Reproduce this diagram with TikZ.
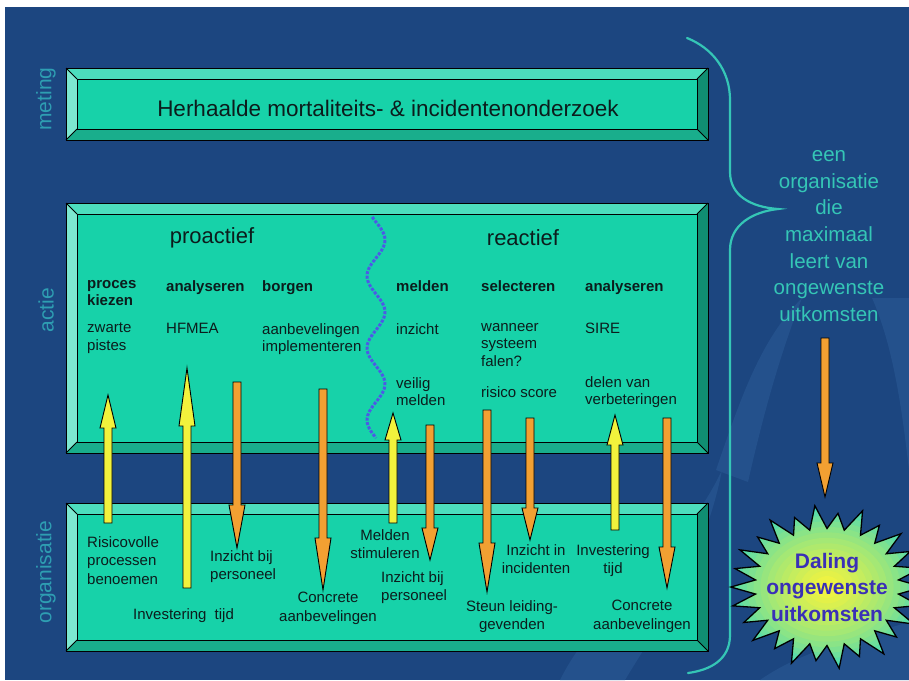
\documentclass[tikz,border=0pt]{standalone}
\usepackage{fontspec}
\setmainfont{Liberation Sans}
\usetikzlibrary{calc}

\definecolor{bgblue}{HTML}{1C4680}
\definecolor{wmblue}{HTML}{24518C}
\definecolor{boxface}{HTML}{17D2A9}
\definecolor{bvtop}{HTML}{4CDDBD}
\definecolor{bvleft}{HTML}{7DE8D0}
\definecolor{bvright}{HTML}{108E72}
\definecolor{bvbot}{HTML}{19AE8C}
\definecolor{sidetxt}{HTML}{2E9EB2}
\definecolor{bracecol}{HTML}{35C6B6}
\definecolor{wavecol}{HTML}{4B5BE6}
\definecolor{arryel}{HTML}{F2F23C}
\definecolor{arrorg}{HTML}{F2A032}
\definecolor{burstin}{HTML}{F6F43C}
\definecolor{burstout}{HTML}{3ED8BC}
\definecolor{dalingtxt}{HTML}{3A30B6}
\definecolor{darktxt}{HTML}{0C1C1C}

\newcommand{\fs}[2]{\fontsize{#1}{#2}\selectfont}

% beveled box round a node
\newcommand{\bevel}[2][11]{%
  \fill[bvtop] (#2.north west) -- (#2.north east) -- ($(#2.north east)+(-#1,#1)$) -- ($(#2.north west)+(#1,#1)$) -- cycle;
  \fill[bvleft] (#2.north west) -- ($(#2.north west)+(#1,#1)$) -- ($(#2.south west)+(#1,-#1)$) -- (#2.south west) -- cycle;
  \fill[bvright] (#2.north east) -- (#2.south east) -- ($(#2.south east)+(-#1,-#1)$) -- ($(#2.north east)+(-#1,#1)$) -- cycle;
  \fill[bvbot] (#2.south west) -- ($(#2.south west)+(#1,-#1)$) -- ($(#2.south east)+(-#1,-#1)$) -- (#2.south east) -- cycle;
  \draw[boxline] ($(#2.north west)+(#1,#1)$) rectangle ($(#2.south east)+(-#1,-#1)$);
  \draw[boxline] (#2.north west) -- ($(#2.north west)+(#1,#1)$)
    (#2.north east) -- ($(#2.north east)+(-#1,#1)$)
    (#2.south west) -- ($(#2.south west)+(#1,-#1)$)
    (#2.south east) -- ($(#2.south east)+(-#1,-#1)$);
  \draw[boxline] (#2.north west) rectangle (#2.south east);
}

% fat vertical arrow: [head length]{colour}{tail}{tip}
\newcommand{\fatarrow}[4][34]{%
  \draw[arrline, fill=#2] let \p1=(#3), \p2=(#4), \n1={(\y2>\y1) ? 1 : -1},
    \n2={\y2-\n1*#1} in
    ({\x1-4},\y1) -- ({\x1-4},\n2) -- ({\x1-8},\n2) -- (\x2,\y2)
    -- ({\x1+8},\n2) -- ({\x1+4},\n2) -- ({\x1+4},\y1) -- cycle;}

% star outline, round (0,0)
\newcommand{\burstpath}{(96,0)
  \foreach \k [evaluate=\k as \odd using {mod(\k,2)},
               evaluate=\k as \f using {(1+0.05*(1-\odd)*sin(mod(97*\k,360)))*(1-0.25*\odd)},
               evaluate=\k as \an using {(360/52)*\k}] in {1,...,51}
  { -- ({96*\f*cos(\an)},{78*\f*sin(\an)}) } -- cycle}

\tikzset{
  boxouter/.style={fill=boxface, inner sep=0pt, outer sep=0pt},
  boxline/.style={draw=black, line width=0.9pt},
  arrline/.style={draw=black, line width=0.9pt, line join=miter},
  sidelbl/.style={font=\fs{21}{24}, text=sidetxt, rotate=90, inner sep=0pt},
  titletxt/.style={font=\fs{22.5}{26}, text=darktxt, inner sep=0pt},
  hdr/.style={font=\fs{15}{17}\bfseries, text=darktxt, align=left, anchor=north west, inner sep=0pt},
  lbl/.style={font=\fs{15}{17.5}, text=darktxt, align=left, anchor=north west, inner sep=0pt},
  orgtxt/.style={font=\fs{15}{18.5}, text=darktxt, align=center, anchor=north, inner sep=0pt},
  orgleft/.style={orgtxt, align=left, anchor=north west},
  wavyline/.style={draw=wavecol, line width=3pt, dash pattern=on 3pt off 1.5pt},
  bracestyle/.style={draw=bracecol, line width=2.2pt, line cap=round},
  righttxt/.style={font=\fs{20.5}{26.6}, text=bracecol, align=center, inner sep=0pt},
  burstline/.style={draw=black, line width=1.3pt, line join=miter},
  bursttxt/.style={font=\fs{21}{26.5}\bfseries, text=dalingtxt, align=center, inner sep=0pt},
  wmark/.style={fill=wmblue}
}

\begin{document}
\begin{tikzpicture}[x=1pt, y=-1pt]
\useasboundingbox (0,0) rectangle (909,680);
\fill[white] (0,0) rectangle (909,680);
\fill[bgblue] (5,7) rectangle (909,680);

% watermark
\fill[wmark] (560,680) .. controls (600,600) and (680,560) .. (722,470) .. controls (705,560) and (655,630) .. (625,680) -- cycle;
\fill[wmark] (716,470) .. controls (740,400) and (760,340) .. (802,298) .. controls (778,360) and (762,420) .. (748,482) -- cycle;
\fill[wmark] (872,298) .. controls (895,350) and (903,420) .. (909,470) -- (909,298) -- cycle;
\fill[wmark] (760,680) .. controls (800,652) and (850,640) .. (909,622) -- (909,680) -- cycle;

% boxes
\node[boxouter, minimum width=642pt, minimum height=72pt] (meting) at (387,104) {};
\bevel{meting}
\node[boxouter, minimum width=642pt, minimum height=250pt] (actie) at (387,328) {};
\bevel{actie}
\node[boxouter, minimum width=642pt, minimum height=148pt] (org) at (387,577) {};
\bevel{org}

\node[titletxt] (onderzoek) at (388,108) {Herhaalde mortaliteits- \& incidentenonderzoek};

% side labels
\node[sidelbl] (lmeting) at (46,99) {meting};
\node[sidelbl] (lactie) at (46,310) {actie};
\node[sidelbl] (lorg) at (46,572) {organisatie};

% proactief / reactief
\draw[wavyline] plot[domain=217:438, samples=90, variable=\t] ({376+9*cos(5*(\t-240))}, \t);
\node[font=\fs{22}{26}, text=darktxt, inner sep=0pt] (pro) at (212,238) {proactief};
\node[font=\fs{22}{26}, text=darktxt, inner sep=0pt] (re) at (523,238) {reactief};

\node[hdr] (h1) at (87,280) {proces\\kiezen};
\node[hdr] (h2) at (166,280) {analyseren};
\node[hdr] (h3) at (262,280) {borgen};
\node[hdr] (h4) at (396,280) {melden};
\node[hdr] (h5) at (481,280) {selecteren};
\node[hdr] (h6) at (585,280) {analyseren};

\node[lbl] (t1) at (87,323) {zwarte\\pistes};
\node[lbl] (t2) at (166,323) {HFMEA};
\node[lbl] (t3) at (262,323) {aanbevelingen\\implementeren};
\node[lbl] (t4) at (396,323) {inzicht};
\node[lbl] (t5) at (481,323) {wanneer\\systeem\\falen?};
\node[lbl] (t6) at (585,323) {SIRE};
\node[lbl] (t7) at (396,377) {veilig\\melden};
\node[lbl] (t8) at (481,386) {risico score};
\node[lbl] (t9) at (585,376) {delen van\\verbeteringen};

% organisatie texts
\node[orgleft] (o1) at (87,536) {Risicovolle\\processen\\benoemen};
\node[orgleft] (o2) at (133,608) {Investering\hspace{4pt} tijd};
\node[orgleft] (o3) at (210,550) {Inzicht bij\\personeel};
\node[orgtxt] (o4) at (328,592) {Concrete\\aanbevelingen};
\node[orgtxt] (o5) at (385,529) {Melden\\stimuleren};
\node[orgleft] (o6) at (381,571) {Inzicht bij\\personeel};
\node[orgtxt] (o7) at (512,600) {Steun leiding-\\gevenden};
\node[orgtxt] (o8) at (536,544) {Inzicht in\\incidenten};
\node[orgtxt] (o9) at (613,544) {Investering\\tijd};
\node[orgtxt] (o10) at (642,600) {Concrete\\aanbevelingen};

% arrows between organisatie and actie
\coordinate (up1) at (108,523); \coordinate (up1t) at (108,395);
\coordinate (up2) at (187,588); \coordinate (up2t) at (187,368);
\coordinate (up3) at (393,523); \coordinate (up3t) at (393,413);
\coordinate (up4) at (615,530); \coordinate (up4t) at (615,415);
\coordinate (dn1) at (237,382); \coordinate (dn1t) at (237,548);
\coordinate (dn2) at (323,389); \coordinate (dn2t) at (323,590);
\coordinate (dn3) at (430,425); \coordinate (dn3t) at (430,560);
\coordinate (dn4) at (487,410); \coordinate (dn4t) at (487,592);
\coordinate (dn5) at (530,418); \coordinate (dn5t) at (530,540);
\coordinate (dn6) at (667,418); \coordinate (dn6t) at (667,588);

\fatarrow[33]{arryel}{up1}{up1t}
\fatarrow[58]{arryel}{up2}{up2t}
\fatarrow[27]{arryel}{up3}{up3t}
\fatarrow[30]{arryel}{up4}{up4t}
\fatarrow[43]{arrorg}{dn1}{dn1t}
\fatarrow[52]{arrorg}{dn2}{dn2t}
\fatarrow[32]{arrorg}{dn3}{dn3t}
\fatarrow[49]{arrorg}{dn4}{dn4t}
\fatarrow[32]{arrorg}{dn5}{dn5t}
\fatarrow[41]{arrorg}{dn6}{dn6t}

% brace
\draw[bracestyle] (687,38) .. controls (712,48) and (730,70) .. (730,100) -- (730,172)
  .. controls (730,195) and (750,207) .. (778,209)
  .. controls (752,212) and (730,225) .. (730,250) -- (730,635)
  .. controls (730,660) and (710,670) .. (688,673);

\node[righttxt] (leert) at (829,236) {een\\organisatie\\die\\maximaal\\leert van\\ongewenste\\uitkomsten};

% daling
\coordinate (dal) at (825,338); \coordinate (dalt) at (825,497);
\fatarrow[34]{arrorg}{dal}{dalt}
\begin{scope}[shift={(827,587)}]
  \begin{scope}
    \clip \burstpath;
    \foreach \i [evaluate=\i as \p using {100*(\i/14)^0.7}, evaluate=\i as \s using {1-\i/15}] in {0,...,14}
      \fill[burstin!\p!burstout] (0,0) ellipse [x radius={100*\s}, y radius={82*\s}];
  \end{scope}
  \draw[burstline] \burstpath;
\end{scope}
\node[bursttxt] (daling) at (827,587) {Daling\\ongewenste\\uitkomsten};
\end{tikzpicture}
\end{document}
